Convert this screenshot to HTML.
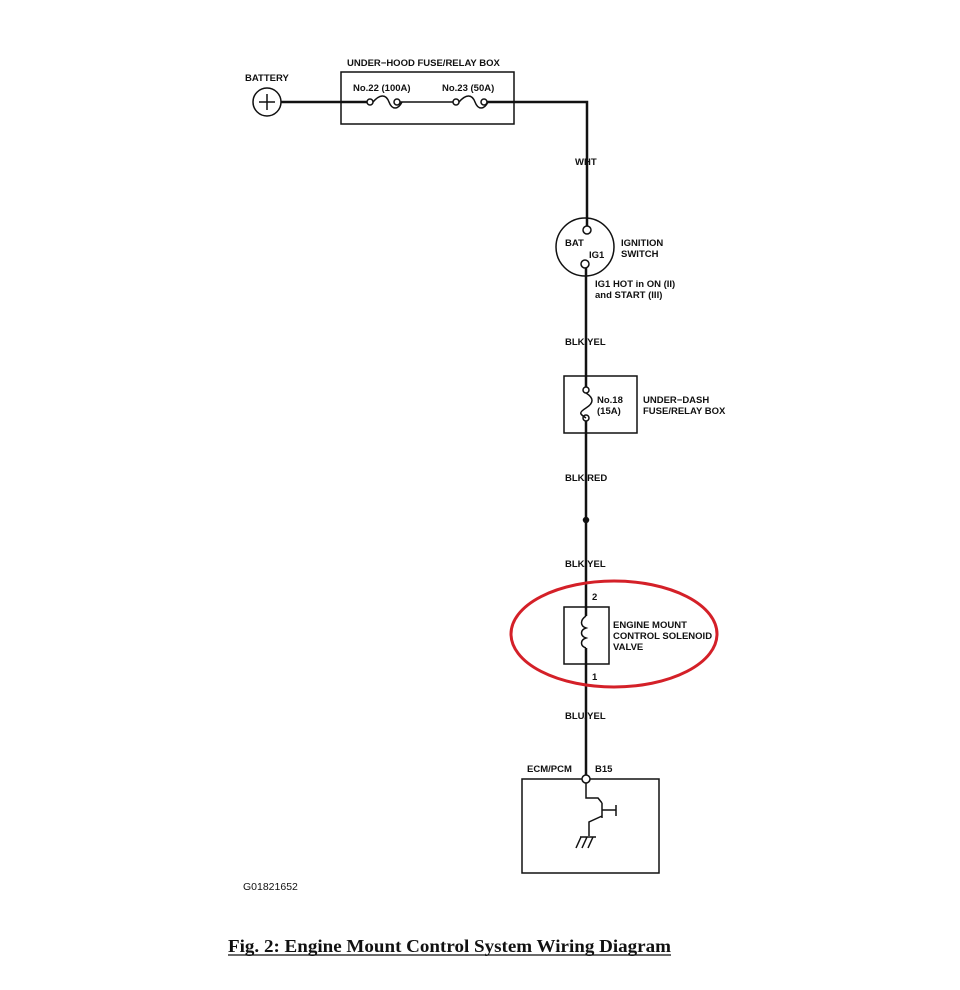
<!DOCTYPE html>
<html><head><style>
body{margin:0;background:#fff}
svg text{font-family:"Liberation Sans",sans-serif;font-weight:bold;font-size:9.5px;fill:#111}
</style></head><body>
<svg width="960" height="985" viewBox="0 0 960 985" xmlns="http://www.w3.org/2000/svg">
<g stroke="#111" fill="none" stroke-width="1.5">
<circle cx="267" cy="102" r="14"/>
<line x1="259" y1="102" x2="275" y2="102"/><line x1="267" y1="94" x2="267" y2="110"/>
<rect x="341" y="72" width="173" height="52"/>
<path d="M281 102 H367" stroke-width="2.5"/>
<circle cx="370" cy="102" r="3"/>
<path d="M373 102 C380 94 386 94 389 102 S398 110 402 102"/>
<circle cx="397" cy="102" r="3"/>
<path d="M400 102 H453"/>
<circle cx="456" cy="102" r="3"/>
<path d="M459 102 C466 94 472 94 475 102 S484 110 488 102"/>
<circle cx="484" cy="102" r="3"/>
<path d="M487 102 H587 V226" stroke-width="2.5"/>
<circle cx="585" cy="247" r="29"/>
<circle cx="587" cy="230" r="4"/>
<circle cx="585" cy="264" r="4"/>
<path d="M586 268 V387" stroke-width="2.5"/>
<rect x="564" y="376" width="73" height="57"/>
<circle cx="586" cy="390" r="3"/>
<path d="M586 393 C594 398 594 403 586 408 S580 414 586 418"/>
<circle cx="586" cy="418" r="3"/>
<path d="M586 421 V616" stroke-width="2.5"/>
<circle cx="586" cy="520" r="2.5" fill="#111"/>
<rect x="564" y="607" width="45" height="57"/>
<path d="M586 616 C580 620 580 626 586 628 C580 630 580 636 586 638 C580 640 580 646 586 648"/>
<path d="M586 648 V775" stroke-width="2.5"/>
<rect x="522" y="779" width="137" height="94"/>
<circle cx="586" cy="779" r="4" fill="#fff"/>
<path d="M586 783 V798 H598 L602 803 M602 803 V818 M602 810 H616 M616 805 V816 M602 816 L589 822 V836 M576 848 L581 837 M582 848 L587 837 M588 848 L593 837 M580 837 H596"/>
</g>
<ellipse cx="614" cy="634" rx="103" ry="53" fill="none" stroke="#d42028" stroke-width="3"/>
<text x="245" y="81">BATTERY</text>
<text x="347" y="66">UNDER−HOOD FUSE/RELAY BOX</text>
<text x="353" y="91">No.22 (100A)</text>
<text x="442" y="91">No.23 (50A)</text>
<text x="575" y="165">WHT</text>
<text x="565" y="246">BAT</text>
<text x="589" y="258">IG1</text>
<text x="621" y="246">IGNITION</text>
<text x="621" y="257">SWITCH</text>
<text x="595" y="287">IG1 HOT in ON (II)</text>
<text x="595" y="298">and START (III)</text>
<text x="565" y="345">BLK/YEL</text>
<text x="597" y="403">No.18</text>
<text x="597" y="414">(15A)</text>
<text x="643" y="403">UNDER−DASH</text>
<text x="643" y="414">FUSE/RELAY BOX</text>
<text x="565" y="481">BLK/RED</text>
<text x="565" y="567">BLK/YEL</text>
<text x="592" y="600">2</text>
<text x="613" y="628">ENGINE MOUNT</text>
<text x="613" y="639">CONTROL SOLENOID</text>
<text x="613" y="650">VALVE</text>
<text x="592" y="680">1</text>
<text x="565" y="719">BLU/YEL</text>
<text x="527" y="772">ECM/PCM</text>
<text x="595" y="772">B15</text>
<text x="243" y="890" style="font-weight:normal;font-size:10.5px">G01821652</text>
<text x="228" y="952" textLength="443" lengthAdjust="spacingAndGlyphs" style="font-family:'Liberation Serif',serif;font-size:18px">Fig. 2: Engine Mount Control System Wiring Diagram</text>
<line x1="228" y1="955" x2="671" y2="955" stroke="#111" stroke-width="1.2"/>
</svg>
</body></html>
